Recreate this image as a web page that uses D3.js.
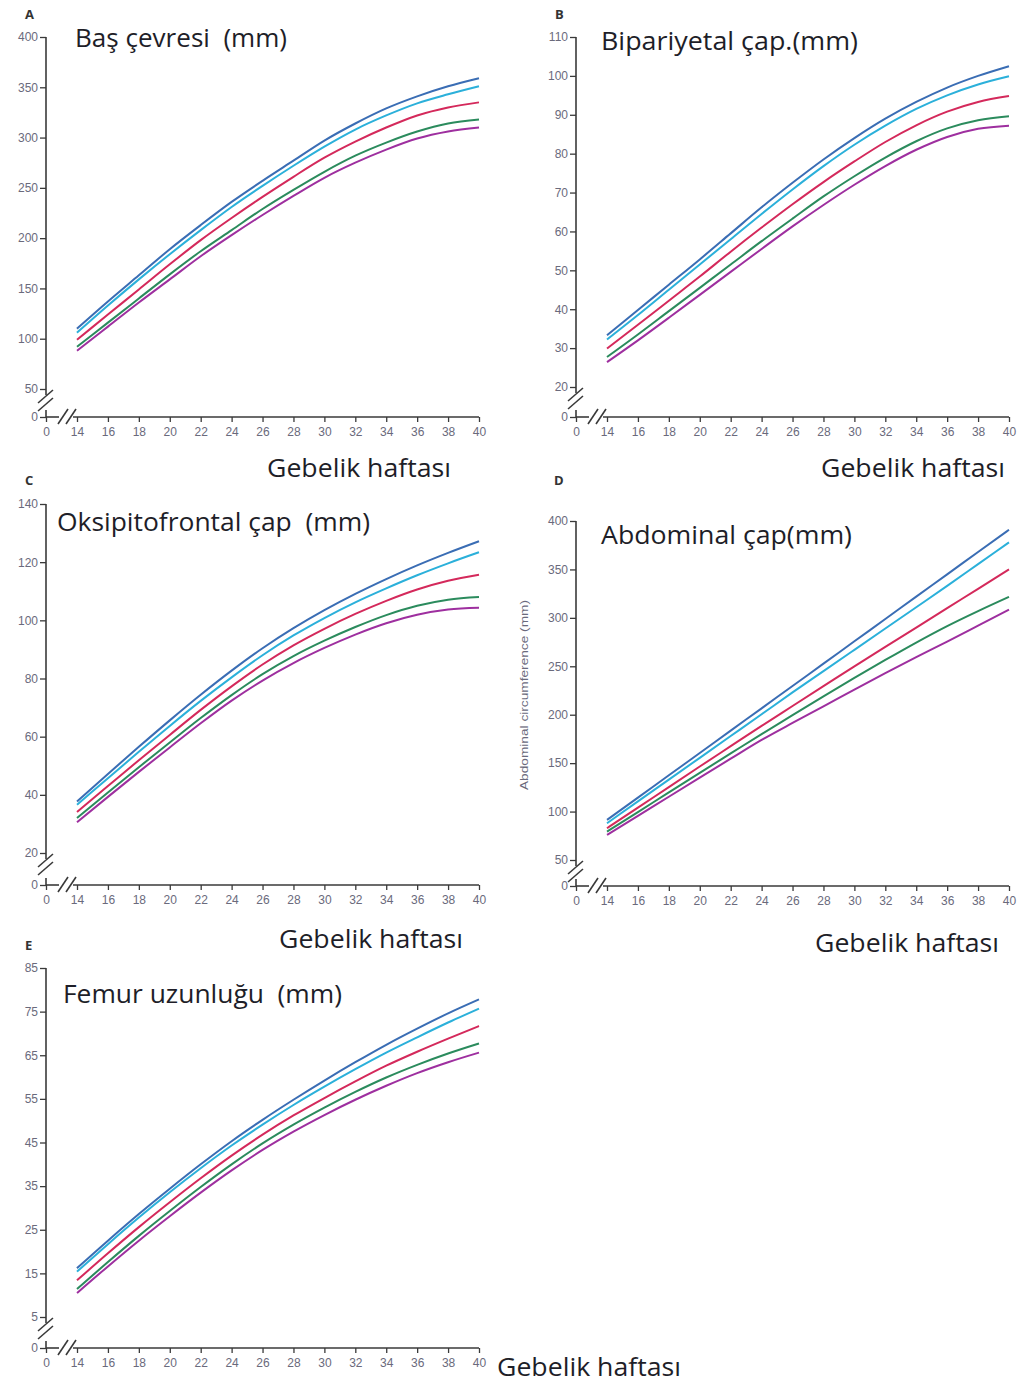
<!DOCTYPE html>
<html>
<head>
<meta charset="utf-8">
<script src="https://cdn.jsdelivr.net/npm/d3@7"></script>
<style>
  html, body { margin: 0; padding: 0; background: #fff; }
  svg { display: block; }
  text { white-space: pre; }
</style>
</head>
<body>
<svg id="chart" width="1024" height="1383"></svg>
<script>
// ---------- DATA ----------
const weeks = [14, 16, 18, 20, 22, 24, 26, 28, 30, 32, 34, 36, 38, 40];
const xTickLabels = [0, 14, 16, 18, 20, 22, 24, 26, 28, 30, 32, 34, 36, 38, 40];
const seriesNames = ["p97", "p90", "p50", "p10", "p3"];
const seriesColors = ["#3a6db4", "#2bb0da", "#d4295b", "#2b8b5d", "#9e2f9f"];

// A: Baş çevresi (mm)
const hcP97 = [110, 137, 163, 189, 213, 236, 257, 277, 297, 314, 329, 341, 351, 359];
const hcP90 = [106, 133, 159, 184, 208, 231, 252, 272, 291, 308, 322, 334, 343, 351];
const hcP50 = [99, 124, 149, 174, 198, 220, 241, 261, 280, 296, 310, 322, 330, 335];
const hcP10 = [92, 116, 140, 164, 187, 208, 229, 248, 266, 282, 295, 306, 314, 318];
const hcP3  = [88, 112, 136, 159, 182, 203, 223, 242, 260, 275, 288, 299, 306, 310];
const hcTicks = [0, 50, 100, 150, 200, 250, 300, 350, 400];

// B: Bipariyetal çap (mm)
const bpdP97 = [33.3, 39.8, 46.3, 52.8, 59.5, 66.2, 72.5, 78.5, 84.0, 89.0, 93.3, 97.0, 100.0, 102.5];
const bpdP90 = [32.2, 38.5, 45.0, 51.5, 58.0, 64.5, 70.8, 76.8, 82.3, 87.2, 91.5, 95.0, 97.8, 99.9];
const bpdP50 = [29.9, 36.0, 42.2, 48.4, 54.8, 61.0, 67.0, 72.7, 78.0, 83.0, 87.3, 90.8, 93.3, 94.8];
const bpdP10 = [27.7, 33.5, 39.5, 45.5, 51.5, 57.5, 63.3, 69.0, 74.2, 79.0, 83.2, 86.5, 88.6, 89.6];
const bpdP3  = [26.4, 32.0, 37.8, 43.7, 49.6, 55.5, 61.3, 66.8, 72.0, 76.8, 81.0, 84.3, 86.4, 87.2];
const bpdTicks = [0, 20, 30, 40, 50, 60, 70, 80, 90, 100, 110];

// C: Oksipitofrontal çap (mm)
const ofdP97 = [37.7, 47.2, 56.5, 65.6, 74.4, 82.7, 90.4, 97.3, 103.5, 109.1, 114.2, 118.9, 123.2, 127.2];
const ofdP90 = [36.6, 45.7, 54.8, 63.7, 72.3, 80.4, 88.0, 94.8, 100.8, 106.2, 111.0, 115.5, 119.6, 123.4];
const ofdP50 = [34.1, 43.0, 51.9, 60.6, 69.2, 77.3, 84.8, 91.4, 97.1, 102.2, 106.7, 110.6, 113.6, 115.7];
const ofdP10 = [32.0, 40.8, 49.5, 58.0, 66.4, 74.3, 81.5, 87.7, 93.0, 97.7, 101.8, 105.0, 107.1, 108.0];
const ofdP3  = [30.6, 39.3, 47.9, 56.3, 64.6, 72.4, 79.3, 85.3, 90.5, 95.1, 99.0, 101.9, 103.7, 104.3];
const ofdTicks = [0, 20, 40, 60, 80, 100, 120, 140];

// D: Abdominal çap (mm)
const acP97 = [91.4, 114.4, 137.5, 160.5, 183.6, 206.6, 229.7, 252.7, 275.8, 298.8, 321.9, 344.9, 368.0, 391.0];
const acP90 = [88.0, 110.5, 133.0, 155.5, 178.0, 200.5, 223.0, 245.0, 267.0, 289.0, 311.0, 333.0, 355.5, 378.0];
const acP50 = [82.8, 104.0, 125.3, 146.5, 167.5, 188.5, 209.0, 229.5, 250.0, 270.0, 290.0, 310.0, 330.0, 350.0];
const acP10 = [79.3, 99.5, 119.8, 140.0, 160.0, 180.0, 199.5, 219.0, 238.0, 256.5, 274.5, 291.5, 307.0, 321.7];
const acP3  = [75.9, 95.5, 115.3, 135.0, 154.6, 174.0, 191.5, 208.5, 226.0, 243.0, 259.5, 275.5, 292.0, 308.6];
const acTicks = [0, 50, 100, 150, 200, 250, 300, 350, 400];

// E: Femur uzunluğu (mm)
const flP97 = [16.2, 22.5, 28.6, 34.4, 40.0, 45.3, 50.2, 54.8, 59.2, 63.4, 67.4, 71.1, 74.6, 77.8];
const flP90 = [15.4, 21.7, 27.8, 33.6, 39.1, 44.3, 49.1, 53.6, 57.8, 61.8, 65.6, 69.1, 72.5, 75.7];
const flP50 = [13.4, 19.6, 25.6, 31.3, 36.8, 42.0, 46.8, 51.2, 55.2, 59.0, 62.6, 65.8, 68.8, 71.7];
const flP10 = [11.4, 17.6, 23.6, 29.3, 34.8, 40.0, 44.8, 49.1, 53.0, 56.6, 59.9, 62.8, 65.4, 67.7];
const flP3  = [10.5, 16.6, 22.5, 28.1, 33.5, 38.6, 43.3, 47.5, 51.3, 54.8, 58.0, 60.9, 63.4, 65.6];
const flTicks = [0, 5, 15, 25, 35, 45, 55, 65, 75, 85];

const xLabel = "Gebelik haftası";

// ---------- LAYOUT ----------
const panels = [
  { letter: "A", title: "Baş çevresi  (mm)", series: [hcP97, hcP90, hcP50, hcP10, hcP3], ticks: hcTicks,
    ox: 46, x14: 77, x40: 479, axisY: 417, yLo: 389, yHi: 37,
    letterPos: [25, 19], titlePos: [75, 47], titleW: 212, xLabPos: [267, 477] },
  { letter: "B", title: "Bipariyetal çap.(mm)", series: [bpdP97, bpdP90, bpdP50, bpdP10, bpdP3], ticks: bpdTicks,
    ox: 576, x14: 607, x40: 1009, axisY: 417, yLo: 387, yHi: 37,
    letterPos: [555, 19], titlePos: [601, 50], titleW: 257, xLabPos: [821, 477] },
  { letter: "C", title: "Oksipitofrontal çap  (mm)", series: [ofdP97, ofdP90, ofdP50, ofdP10, ofdP3], ticks: ofdTicks,
    ox: 46, x14: 77, x40: 479, axisY: 885, yLo: 853, yHi: 504,
    letterPos: [25, 485], titlePos: [57, 531], titleW: 313, xLabPos: [279, 948] },
  { letter: "D", title: "Abdominal çap(mm)", series: [acP97, acP90, acP50, acP10, acP3], ticks: acTicks,
    ox: 576, x14: 607, x40: 1009, axisY: 886, yLo: 860, yHi: 521,
    letterPos: [554, 485], titlePos: [601, 544], titleW: 251, xLabPos: [815, 952],
    yAxisLabel: "Abdominal circumference (mm)" },
  { letter: "E", title: "Femur uzunluğu  (mm)", series: [flP97, flP90, flP50, flP10, flP3], ticks: flTicks,
    ox: 46, x14: 77, x40: 479, axisY: 1348, yLo: 1317, yHi: 968,
    letterPos: [25, 950], titlePos: [63, 1003], titleW: 279, xLabPos: [497, 1376] }
];

const svg = d3.select("#chart");
const tickFont = "'Liberation Sans', Arial, sans-serif";
const titleFont = "'Open Sans', 'Noto Sans', sans-serif";
const tickColor = "#6a6a7c";
const axisColor = "#3a3a3a";
const textColor = "#1e1e28";

panels.forEach(p => {
  const ticks = p.ticks;
  const lo = ticks[1], hi = ticks[ticks.length - 1];
  const x = d3.scaleLinear().domain([0, 14, 40]).range([p.ox, p.x14, p.x40]);
  const y = d3.scaleLinear().domain([0, lo, hi]).range([p.axisY, p.yLo, p.yHi]);
  const g = svg.append("g");

  // Y axis ticks
  const yAxis = d3.axisLeft(y).tickValues(ticks).tickSize(6).tickPadding(2).tickFormat(d3.format("d"));
  const yg = g.append("g").attr("transform", `translate(${p.ox},0)`).call(yAxis);
  yg.select(".domain").remove();
  yg.selectAll(".tick line").attr("stroke", axisColor).attr("stroke-width", 1.3);
  yg.selectAll(".tick text").attr("fill", tickColor).style("font-family", tickFont).style("font-size", "12px");

  // X axis ticks
  const xAxis = d3.axisBottom(x).tickValues(xTickLabels).tickSize(5).tickPadding(5).tickFormat(d3.format("d"));
  const xg = g.append("g").attr("transform", `translate(0,${p.axisY})`).call(xAxis);
  xg.select(".domain").remove();
  xg.selectAll(".tick line").attr("stroke", axisColor).attr("stroke-width", 1.3);
  xg.selectAll(".tick text").attr("fill", tickColor).style("font-family", tickFont).style("font-size", "12px");

  // Axis lines with breaks
  const seg = (x1, y1, x2, y2) => g.append("line")
    .attr("x1", x1).attr("y1", y1).attr("x2", x2).attr("y2", y2)
    .attr("stroke", axisColor).attr("stroke-width", 1.6).attr("fill", "none");
  seg(p.ox, p.yHi, p.ox, p.yLo + 6);
  seg(p.ox, p.axisY - 7, p.ox, p.axisY);
  seg(p.ox, p.axisY, p.ox + 13, p.axisY);
  seg(p.x14 - 4, p.axisY, p.x40, p.axisY);
  // break slashes on y axis
  seg(p.ox - 8, p.yLo + 14, p.ox + 7, p.yLo + 1);
  seg(p.ox - 8, p.yLo + 22, p.ox + 7, p.yLo + 9);
  // break slashes on x axis
  seg(p.ox + 12, p.axisY + 7, p.ox + 22, p.axisY - 8);
  seg(p.ox + 20, p.axisY + 7, p.ox + 30, p.axisY - 8);

  // Percentile curves
  const line = d3.line().x((d, i) => x(weeks[i])).y(d => y(d)).curve(d3.curveMonotoneX);
  p.series.forEach((s, i) => {
    g.append("path").datum(s).attr("d", line)
      .attr("fill", "none").attr("stroke", seriesColors[i]).attr("stroke-width", 2);
  });

  // Panel letter
  g.append("text").attr("x", p.letterPos[0]).attr("y", p.letterPos[1])
    .text(p.letter).style("font-family", titleFont).style("font-weight", "bold")
    .style("font-size", "13px").attr("fill", "#333");

  // Title
  g.append("text").attr("x", p.titlePos[0]).attr("y", p.titlePos[1])
    .attr("textLength", p.titleW).attr("lengthAdjust", "spacingAndGlyphs")
    .text(p.title).style("font-family", titleFont).style("font-size", "26px").attr("fill", textColor);

  // X label
  g.append("text").attr("x", p.xLabPos[0]).attr("y", p.xLabPos[1])
    .attr("textLength", 184).attr("lengthAdjust", "spacingAndGlyphs")
    .text(xLabel).style("font-family", titleFont).style("font-size", "26px").attr("fill", textColor);

  if (p.yAxisLabel) {
    g.append("text").attr("transform", `translate(528,695) rotate(-90)`)
      .attr("text-anchor", "middle").attr("textLength", 190).attr("lengthAdjust", "spacingAndGlyphs")
      .text(p.yAxisLabel)
      .style("font-family", tickFont).style("font-size", "11px").attr("fill", "#6a6a7c");
  }
});
</script>
</body>
</html>
